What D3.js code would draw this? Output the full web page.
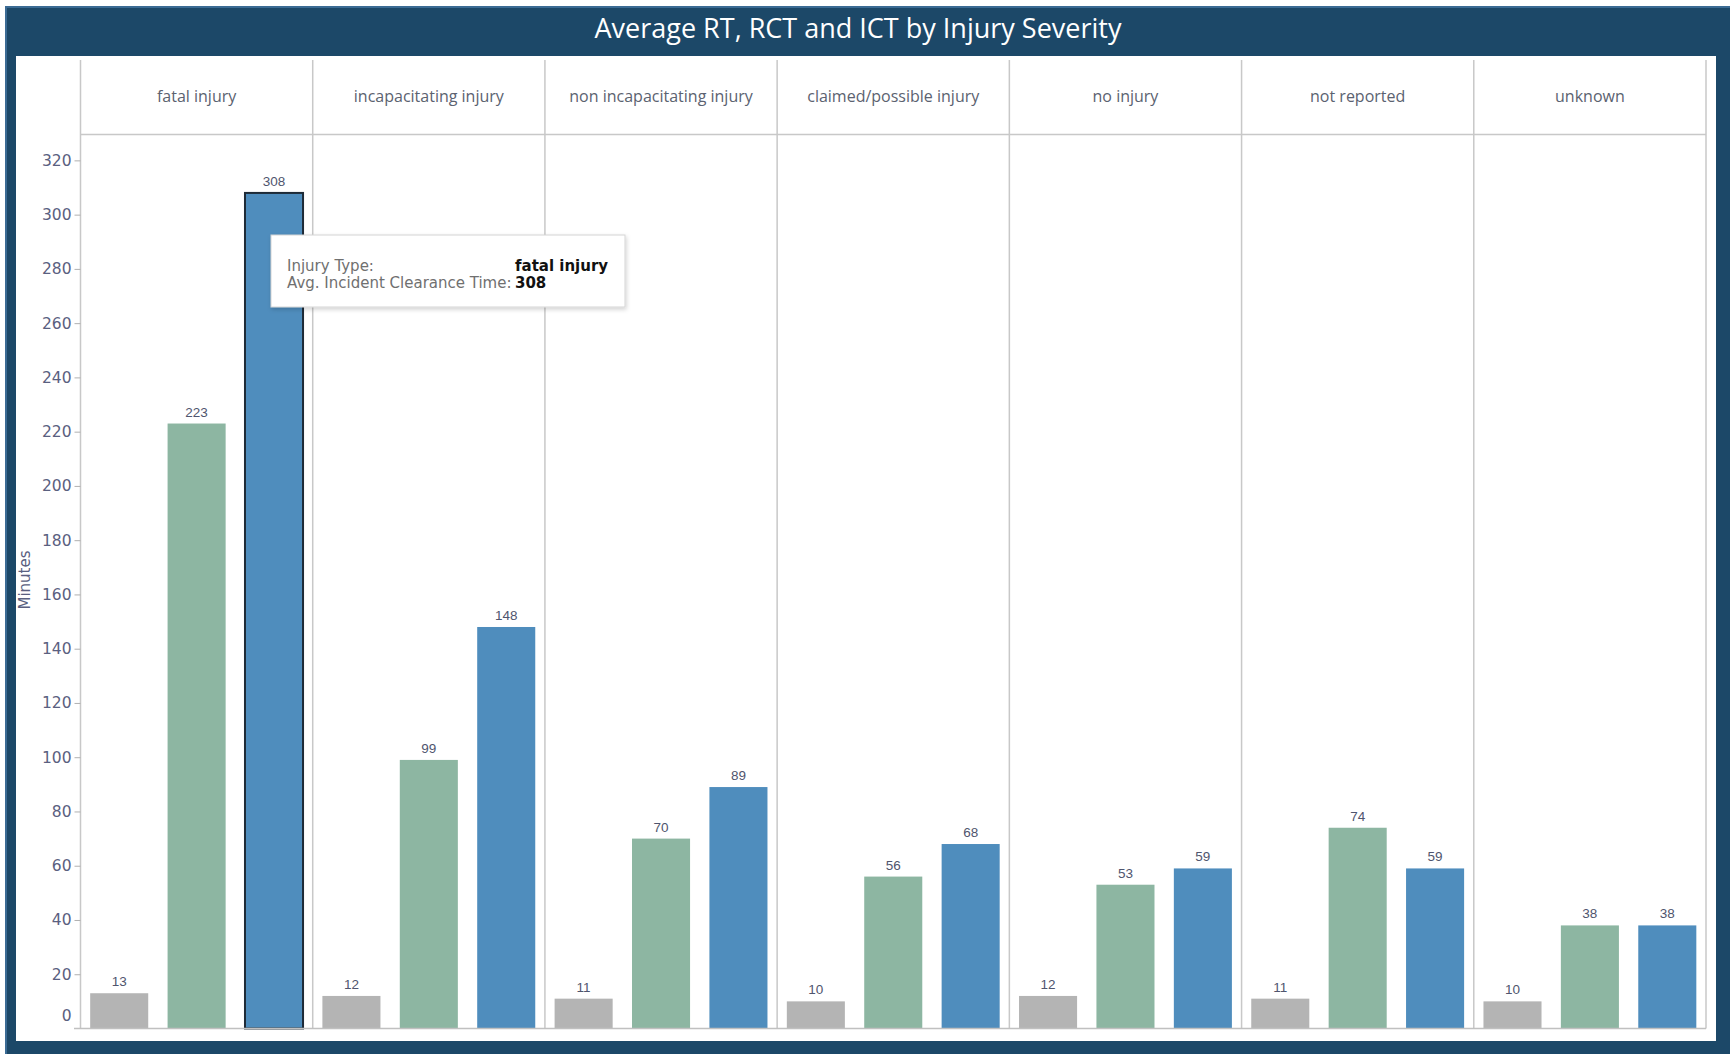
<!DOCTYPE html>
<html>
<head>
<meta charset="utf-8">
<script src="https://cdn.jsdelivr.net/npm/d3@7"></script>
<style>
  body { margin: 0; background: #fff; }
  svg { display: block; }
</style>
</head>
<body>
<script>
// data
var categories = ['fatal injury', 'incapacitating injury', 'non incapacitating injury',
                  'claimed/possible injury', 'no injury', 'not reported', 'unknown'];
var seriesNames = ['RT', 'RCT', 'ICT'];
var rtValues  = [13, 12, 11, 10, 12, 11, 10];
var rctValues = [223, 99, 70, 56, 53, 74, 38];
var ictValues = [308, 148, 89, 68, 59, 59, 38];
var yTicks = [0, 20, 40, 60, 80, 100, 120, 140, 160, 180, 200, 220, 240, 260, 280, 300, 320];
var seriesColors = ['#b4b4b4', '#8db6a2', '#4f8dbd'];

var W = 1730, H = 1054;
// careful: "top" is taken by window.top, so use other names
var plotL = 80.5, plotR = 1706, plotT = 134.6, plotB = 1028.5;

var svg = d3.select('body').append('svg')
    .attr('width', W)
    .attr('height', H);

// frame + title bar
svg.append('rect').attr('x', 5).attr('y', 6).attr('width', W - 5).attr('height', H - 6).attr('fill', '#3b6b94');
svg.append('rect').attr('x', 7).attr('y', 8).attr('width', W - 7).attr('height', H - 8).attr('fill', '#1c4868');
svg.append('rect').attr('x', 16).attr('y', 56).attr('width', 1700).attr('height', 985).attr('fill', '#fff');

svg.append('text')
    .attr('x', 858).attr('y', 38)
    .attr('text-anchor', 'middle')
    .attr('font-family', 'Open Sans')
    .attr('font-size', '27px')
    .attr('fill', '#fff')
    .text('Average RT, RCT and ICT by Injury Severity');

// scales
var x0 = d3.scaleBand().domain(categories).range([plotL, plotR]).padding(0);
var x1 = d3.scaleBand().domain(seriesNames).range([0, x0.bandwidth()])
    .paddingInner(0.25).paddingOuter(0.125);
var y = d3.scaleLinear().domain([0, 329.5]).range([plotB, plotT]);
var color = d3.scaleOrdinal().domain(seriesNames).range(seriesColors);

// rows of data per category
var rows = categories.map(function (c, i) {
    return { cat: c, vals: [rtValues[i], rctValues[i], ictValues[i]] };
});

// column dividers and header line
var bounds = categories.map(function (c) { return x0(c); }).concat([plotR]);
svg.selectAll('.divider').data(bounds)
    .enter().append('line')
    .attr('class', 'divider')
    .attr('x1', function (d) { return d; })
    .attr('x2', function (d) { return d; })
    .attr('y1', 60).attr('y2', plotB)
    .attr('stroke', '#c8c8c8').attr('stroke-width', 1.5);
svg.append('line')
    .attr('x1', plotL).attr('x2', plotR)
    .attr('y1', plotT).attr('y2', plotT)
    .attr('stroke', '#c8c8c8').attr('stroke-width', 1.5);

// header labels
svg.selectAll('.hdr').data(categories)
    .enter().append('text')
    .attr('class', 'hdr')
    .attr('x', function (d) { return x0(d) + x0.bandwidth() / 2; })
    .attr('y', 102)
    .attr('text-anchor', 'middle')
    .attr('font-family', 'Open Sans')
    .attr('font-size', '16px')
    .attr('fill', '#5b6270')
    .text(function (d) { return d; });

// y axis
var yAxis = d3.axisLeft(y).tickValues(yTicks).tickSize(6).tickPadding(3);
var gy = svg.append('g').attr('transform', 'translate(' + plotL + ',0)').call(yAxis);
gy.select('.domain').remove();
gy.selectAll('.tick line').attr('stroke', '#b0b0b0');
gy.selectAll('.tick text')
    .attr('font-family', 'DejaVu Sans')
    .attr('font-size', '15.5px')
    .attr('fill', '#5a6080');
// the zero label sits a bit higher, no tick mark
var zero = gy.selectAll('.tick').filter(function (d) { return d === 0; });
zero.select('text').attr('dy', '-0.5em');
zero.select('line').remove();

svg.append('text')
    .attr('transform', 'translate(30,580) rotate(-90)')
    .attr('text-anchor', 'middle')
    .attr('font-family', 'DejaVu Sans')
    .attr('font-size', '15px')
    .attr('fill', '#5a6080')
    .text('Minutes');

// bars
var groups = svg.selectAll('.grp').data(rows)
    .enter().append('g')
    .attr('class', 'grp')
    .attr('transform', function (d) { return 'translate(' + x0(d.cat) + ',0)'; });

groups.selectAll('rect')
    .data(function (d) {
        return d.vals.map(function (v, j) { return { cat: d.cat, s: seriesNames[j], v: v }; });
    })
    .enter().append('rect')
    .attr('x', function (d) { return x1(d.s); })
    .attr('y', function (d) { return y(d.v); })
    .attr('width', x1.bandwidth())
    .attr('height', function (d) { return plotB - y(d.v); })
    .attr('fill', function (d) { return color(d.s); })
    .attr('stroke', function (d) { return (d.cat === 'fatal injury' && d.s === 'ICT') ? '#1e2a36' : 'none'; })
    .attr('stroke-width', 2);

// value labels
groups.selectAll('.lbl')
    .data(function (d) {
        return d.vals.map(function (v, j) { return { s: seriesNames[j], v: v }; });
    })
    .enter().append('text')
    .attr('class', 'lbl')
    .attr('x', function (d) { return x1(d.s) + x1.bandwidth() / 2; })
    .attr('y', function (d) { return y(d.v) - 7; })
    .attr('text-anchor', 'middle')
    .attr('font-family', 'Liberation Sans')
    .attr('font-size', '13.5px')
    .attr('fill', '#4f556e')
    .text(function (d) { return d.v; });

// baseline
svg.append('line')
    .attr('x1', 74).attr('x2', plotR)
    .attr('y1', plotB).attr('y2', plotB)
    .attr('stroke', '#c0c0c0').attr('stroke-width', 1.5);

// tooltip on the fatal injury ICT bar
var defs = svg.append('defs');
var f = defs.append('filter').attr('id', 'shadow')
    .attr('x', '-10%').attr('y', '-20%').attr('width', '120%').attr('height', '150%');
f.append('feDropShadow').attr('dx', 1).attr('dy', 2).attr('stdDeviation', 2)
    .attr('flood-color', '#000').attr('flood-opacity', 0.18);

var tip = svg.append('g');
tip.append('rect')
    .attr('x', 271).attr('y', 235).attr('width', 354).attr('height', 72)
    .attr('fill', '#fff').attr('stroke', '#d4d4d4').attr('filter', 'url(#shadow)');
var tipRows = [['Injury Type:', categories[0]], ['Avg. Incident Clearance Time:', ictValues[0]]];
tip.selectAll('.k').data(tipRows).enter().append('text')
    .attr('class', 'k')
    .attr('x', 287).attr('y', function (d, i) { return 271 + i * 17; })
    .attr('font-family', 'DejaVu Sans').attr('font-size', '15px').attr('fill', '#707070')
    .text(function (d) { return d[0]; });
tip.selectAll('.v').data(tipRows).enter().append('text')
    .attr('class', 'v')
    .attr('x', 515).attr('y', function (d, i) { return 271 + i * 17; })
    .attr('font-family', 'DejaVu Sans').attr('font-size', '15px').attr('font-weight', 'bold')
    .attr('fill', '#111')
    .text(function (d) { return d[1]; });
</script>
</body>
</html>
